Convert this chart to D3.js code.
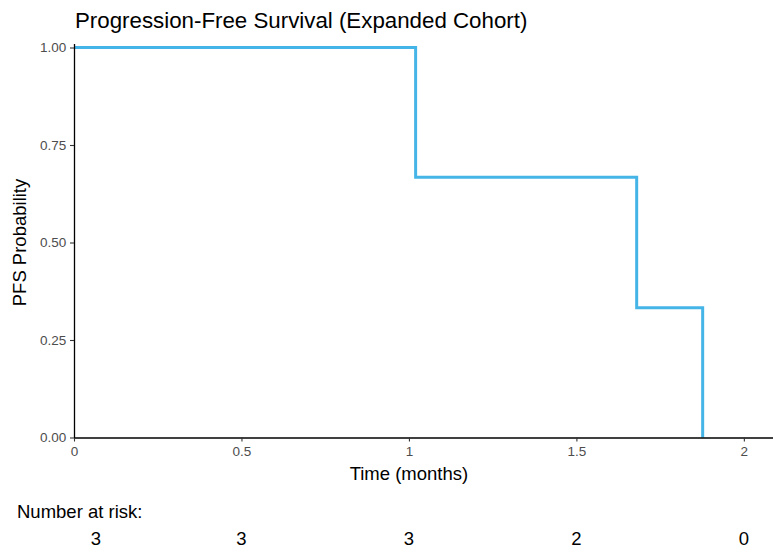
<!DOCTYPE html>
<html>
<head>
<meta charset="utf-8">
<script src="https://cdn.jsdelivr.net/npm/d3@7"></script>
<style>
  body { margin: 0; background: #fff; }
  svg { font-family: "Liberation Sans", Arial, sans-serif; }
</style>
</head>
<body>
<svg id="chart" width="773" height="554"></svg>
<script>
// Kaplan-Meier step data
const stepTimes = [0, 1.02, 1.68, 1.877];
const stepSurv = [1.0, 0.667, 0.333, 0.0];
// axis ticks
const xTicks = [0, 0.5, 1, 1.5, 2];
const xTickLabels = ['0', '0.5', '1', '1.5', '2'];
const yTicks = [0, 0.25, 0.5, 0.75, 1];
const yTickLabels = ['0.00', '0.25', '0.50', '0.75', '1.00'];
// number at risk table
const riskTimes = [0, 0.5, 1, 1.5, 2];
const riskCounts = [3, 3, 3, 2, 0];

const svg = d3.select('#chart');
const lineColor = '#45b4e7';

const x = d3.scaleLinear().domain([0, 2.087]).range([74, 773]);
const y = d3.scaleLinear().domain([0, 1.01]).range([437.5, 43.6]);

// title
svg.append('text')
    .attr('x', 75)
    .attr('y', 28)
    .attr('font-size', 22.3)
    .attr('fill', '#000')
    .text('Progression-Free Survival (Expanded Cohort)');

// survival curve
const pts = stepTimes.map((t, i) => [t, stepSurv[i]]);
const line = d3.line()
    .x(d => x(d[0]))
    .y(d => y(d[1]))
    .curve(d3.curveStepAfter);
svg.append('path')
    .datum(pts)
    .attr('fill', 'none')
    .attr('stroke', lineColor)
    .attr('stroke-width', 3)
    .attr('d', line);

// axes
const xAxis = d3.axisBottom(x)
    .tickValues(xTicks)
    .tickFormat((d, i) => xTickLabels[i])
    .tickSize(4)
    .tickSizeOuter(0);
const gx = svg.append('g')
    .attr('transform', `translate(0,${y(0)})`)
    .call(xAxis);

const yAxis = d3.axisLeft(y)
    .tickValues(yTicks)
    .tickFormat((d, i) => yTickLabels[i])
    .tickSize(4)
    .tickSizeOuter(0);
const gy = svg.append('g')
    .attr('transform', `translate(${x(0)},0)`)
    .call(yAxis);

[gx, gy].forEach(g => {
    g.select('.domain').attr('stroke', '#000').attr('stroke-width', 1.3);
    g.selectAll('.tick line').attr('stroke', '#333').attr('stroke-width', 1.1);
    g.selectAll('.tick text')
        .attr('fill', '#4d4d4d')
        .attr('font-size', 13.5)
        .attr('font-family', '"Liberation Sans", Arial, sans-serif');
});
gx.selectAll('.tick text').attr('dy', '0.85em');
gy.selectAll('.tick text').attr('dx', '-0.05em');

// axis titles
svg.append('text')
    .attr('x', x(1))
    .attr('y', 480)
    .attr('text-anchor', 'middle')
    .attr('font-size', 18.5)
    .attr('fill', '#000')
    .text('Time (months)');

svg.append('text')
    .attr('transform', `translate(26,${(y(0) + y(1)) / 2}) rotate(-90)`)
    .attr('text-anchor', 'middle')
    .attr('font-size', 18.5)
    .attr('fill', '#000')
    .text('PFS Probability');

// number at risk
svg.append('text')
    .attr('x', 17)
    .attr('y', 518)
    .attr('font-size', 18.5)
    .attr('fill', '#000')
    .text('Number at risk:');

svg.append('g')
    .selectAll('text')
    .data(riskTimes)
    .enter()
    .append('text')
    .attr('x', d => Math.max(x(d), 96))
    .attr('y', 545)
    .attr('text-anchor', 'middle')
    .attr('font-size', 18.5)
    .attr('fill', '#000')
    .text((d, i) => riskCounts[i]);
</script>
</body>
</html>
